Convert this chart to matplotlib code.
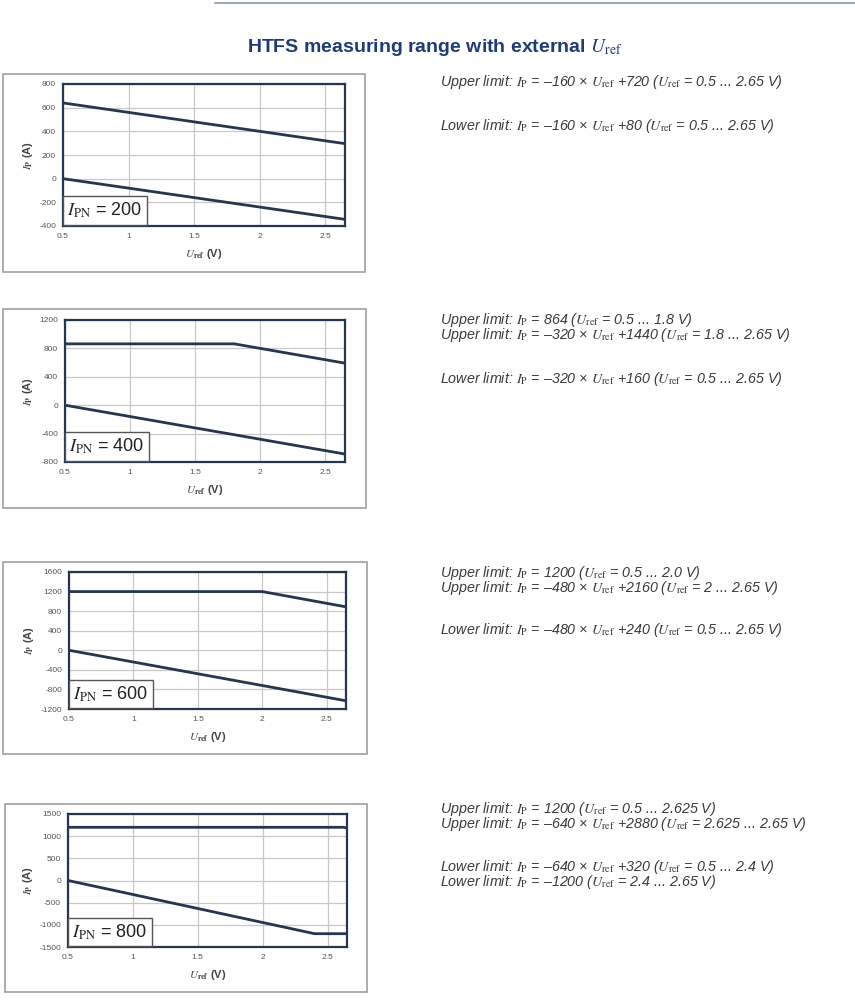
import matplotlib
matplotlib.use("Agg")
import matplotlib.pyplot as plt
from matplotlib.patches import Rectangle
from matplotlib.lines import Line2D

plt.rcParams['font.family'] = ['Liberation Sans', 'DejaVu Sans']
plt.rcParams['mathtext.fontset'] = 'stix'
plt.rcParams['axes.unicode_minus'] = False

# rated currents for the four sensors
ipn_values = [200, 400, 600, 800]

# breakpoints of the upper / lower limit curves (U_ref in V, I_P in A)
upper_x = [[0.5, 2.65], [0.5, 1.8, 2.65], [0.5, 2.0, 2.65], [0.5, 2.625, 2.65]]
upper_y = [[640, 296], [864, 864, 592], [1200, 1200, 888], [1200, 1200, 1184]]
lower_x = [[0.5, 2.65], [0.5, 2.65], [0.5, 2.65], [0.5, 2.4, 2.65]]
lower_y = [[0, -344], [0, -688], [0, -1032], [0, -1200, -1200]]

x_ticks = [0.5, 1, 1.5, 2, 2.5]
x_ticklabels = ['0.5', '1', '1.5', '2', '2.5']
y_ticks = [
    [-400, -200, 0, 200, 400, 600, 800],
    [-800, -400, 0, 400, 800, 1200],
    [-1200, -800, -400, 0, 400, 800, 1200, 1600],
    [-1500, -1000, -500, 0, 500, 1000, 1500],
]

ur = r'$U_{\mathrm{ref}}$'
ip = r'$I_{\mathrm{P}}$'
# upper / lower limit blocks, lines joined with newlines
upper_notes = [
    'Upper limit: ' + ip + ' = \u2013160 \u00d7 ' + ur + ' +720 (' + ur + ' = 0.5 ... 2.65 V)',
    'Upper limit: ' + ip + ' = 864 (' + ur + ' = 0.5 ... 1.8 V)\n'
    'Upper limit: ' + ip + ' = \u2013320 \u00d7 ' + ur + ' +1440 (' + ur + ' = 1.8 ... 2.65 V)',
    'Upper limit: ' + ip + ' = 1200 (' + ur + ' = 0.5 ... 2.0 V)\n'
    'Upper limit: ' + ip + ' = \u2013480 \u00d7 ' + ur + ' +2160 (' + ur + ' = 2 ... 2.65 V)',
    'Upper limit: ' + ip + ' = 1200 (' + ur + ' = 0.5 ... 2.625 V)\n'
    'Upper limit: ' + ip + ' = \u2013640 \u00d7 ' + ur + ' +2880 (' + ur + ' = 2.625 ... 2.65 V)',
]
lower_notes = [
    'Lower limit: ' + ip + ' = \u2013160 \u00d7 ' + ur + ' +80 (' + ur + ' = 0.5 ... 2.65 V)',
    'Lower limit: ' + ip + ' = \u2013320 \u00d7 ' + ur + ' +160 (' + ur + ' = 0.5 ... 2.65 V)',
    'Lower limit: ' + ip + ' = \u2013480 \u00d7 ' + ur + ' +240 (' + ur + ' = 0.5 ... 2.65 V)',
    'Lower limit: ' + ip + ' = \u2013640 \u00d7 ' + ur + ' +320 (' + ur + ' = 0.5 ... 2.4 V)\n'
    'Lower limit: ' + ip + ' = \u20131200 (' + ur + ' = 2.4 ... 2.65 V)',
]

W, H = 855, 1000
fig = plt.figure(figsize=(W / 100, H / 100), dpi=100)

def px(x0, y0, x1, y1):
    # pixel box (top-left origin) -> figure fraction rect
    return [x0 / W, 1 - y1 / H, (x1 - x0) / W, (y1 - y0) / H]

# plot areas and outer frames in pixels
plot_boxes = [(63, 84, 345, 226), (65, 320, 345, 462), (69, 572, 346, 709), (68, 814, 347, 947)]
frame_boxes = [(3, 74, 365, 272), (3, 309, 366, 508), (3, 562, 367, 754), (5, 804, 367, 992)]
upper_top = [73, 311, 564, 800]
lower_top = [117, 370, 621, 858]

navy = '#27364f'

# top rule and title
fig.add_artist(Line2D([215 / W, 1.0], [1 - 3 / H, 1 - 3 / H], color='#8a9ab0', lw=1.2))
fig.text(435 / W, 1 - 47 / H, 'HTFS measuring range with external ' + r'$U_{\mathrm{ref}}$',
         ha='center', va='center', fontsize=14, fontweight='bold', color='#1f3a78')

for i in range(4):
    fx0, fy0, fx1, fy1 = frame_boxes[i]
    fig.add_artist(Rectangle((fx0 / W, 1 - fy1 / H), (fx1 - fx0) / W, (fy1 - fy0) / H,
                             transform=fig.transFigure, fill=False, edgecolor='#a0a0a0', lw=1.2))

    ax = fig.add_axes(px(*plot_boxes[i]))
    ax.plot(upper_x[i], upper_y[i], color=navy, lw=2)
    ax.plot(lower_x[i], lower_y[i], color=navy, lw=2)
    ax.set_xlim(0.5, 2.65)
    ax.set_ylim(y_ticks[i][0], y_ticks[i][-1])
    ax.set_xticks(x_ticks)
    ax.set_xticklabels(x_ticklabels)
    ax.set_yticks(y_ticks[i])
    ax.grid(True, color='#c8c8c8', lw=0.9)
    ax.set_axisbelow(True)
    for s in ax.spines.values():
        s.set_color(navy)
        s.set_linewidth(1.6)
    ax.tick_params(length=0, labelsize=6, colors='#555555', pad=5)
    ax.set_xlabel(r'$\mathbf{\mathit{U}_{ref}}$ (V)', fontsize=8, fontweight='bold',
                  color='#444444', labelpad=5)
    ax.set_ylabel(r'$\mathbf{\mathit{I}_{P}}$ (A)', fontsize=8, fontweight='bold',
                  color='#444444', labelpad=3)
    ax.text(0.015, 0.04, r'$I_{\mathrm{PN}}$' + ' = %d' % ipn_values[i], transform=ax.transAxes,
            ha='left', va='bottom', fontsize=13, color='#222222',
            bbox=dict(boxstyle='square,pad=0.25', facecolor='white', edgecolor='#555555', lw=1))

    fig.text(440 / W, 1 - upper_top[i] / H, upper_notes[i], ha='left', va='top', fontsize=10.3,
             style='italic', color='#3a3a3a', linespacing=0.75)
    fig.text(440 / W, 1 - lower_top[i] / H, lower_notes[i], ha='left', va='top', fontsize=10.3,
             style='italic', color='#3a3a3a', linespacing=0.75)

fig.savefig('out.png', dpi=100, facecolor='white')
